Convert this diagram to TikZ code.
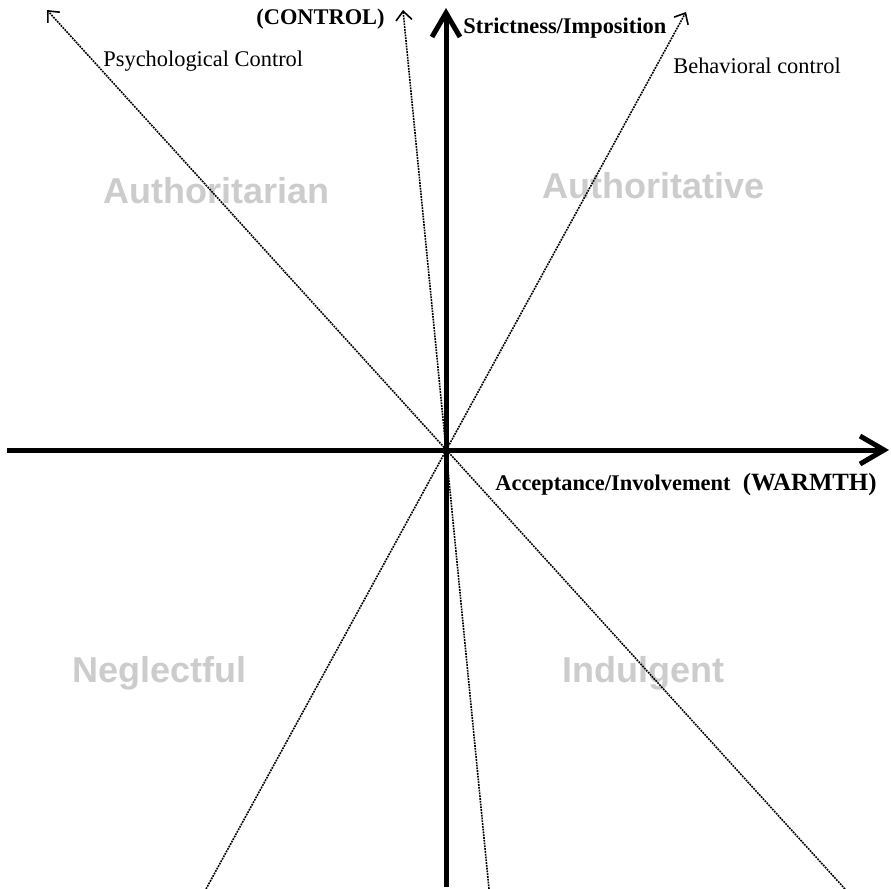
\documentclass[tikz,border=0pt]{standalone}
\usepackage{fontspec}
\setmainfont{Liberation Serif}
\newfontfamily\quadfont{Liberation Sans}
\usetikzlibrary{arrows.meta}

\begin{document}
\begin{tikzpicture}[x=0.5pt, y=-0.5pt,
    axis/.style={line width=2.5pt, -{Straight Barb[length=12pt, width=14pt]}},
    dim/.style={line width=0.8pt, dash pattern=on 0.9pt off 0.5pt, -{Straight Barb[length=4.5pt, width=8pt]}},
    lab/.style={inner sep=0, font=\fontsize{11.2}{13}\selectfont},
    blab/.style={lab, font=\bfseries\fontsize{11.2}{13}\selectfont},
    quad/.style={inner sep=0, text=black!20, font=\quadfont\bfseries\fontsize{18}{20}\selectfont}]
    \useasboundingbox (0,0) rectangle (891,889);

    % Style quadrants
    \node[quad, anchor=base west] (authn) at (103,203) {Authoritarian};
    \node[quad, anchor=base west] (authv) at (542,198) {Authoritative};
    \node[quad, anchor=base east] (negl) at (247,682) {Neglectful};
    \node[quad, anchor=base west] (indu) at (562,682) {Indulgent};

    % Origin and line ends
    \coordinate (O) at (446,450);
    \coordinate (xw) at (7,450);
    \coordinate (xe) at (889,450);
    \coordinate (ys) at (446,887);
    \coordinate (yn) at (446,8);
    \coordinate (psyT) at (47,10);
    \coordinate (psyB) at (845,889);
    \coordinate (conT) at (403,10);
    \coordinate (conB) at (489,889);
    \coordinate (behT) at (686,12);
    \coordinate (behB) at (206,889);

    % Control dimensions
    \draw[dim] (psyB) -- (psyT);
    \draw[dim] (conB) -- (conT);
    \draw[dim] (behB) -- (behT);

    % Axes
    \draw[axis] (xw) -- (xe);
    \draw[axis] (ys) -- (yn);

    % Labels
    \node[blab, anchor=base east] (ctrl) at (385,24) {(CONTROL)};
    \node[lab, anchor=base west] (psy) at (103,66) {Psychological Control};
    \node[blab, anchor=base west] (strict) at (463,33) {Strictness/Imposition};
    \node[lab, anchor=base west] (beh) at (673,73) {Behavioral control};
    \node[blab, anchor=base west] (warm) at (495,490) {Acceptance/Involvement\hspace{0.3em} {\fontsize{12.4}{14}\selectfont(WARMTH)}};

\end{tikzpicture}
\end{document}
